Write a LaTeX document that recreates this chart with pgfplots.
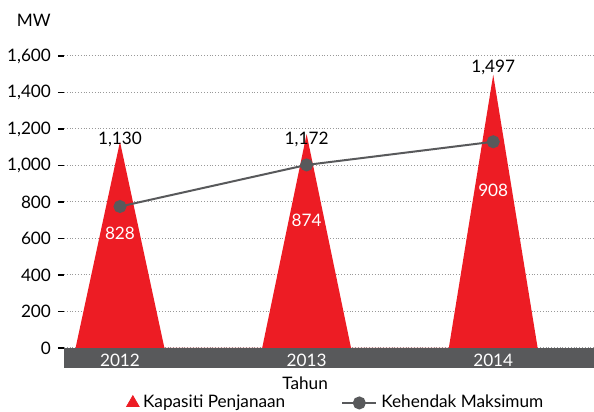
\documentclass[border=0pt]{standalone}
\usepackage{pgfplots}
\pgfplotsset{compat=1.18}
\usepackage{fontspec}
\setmainfont{Lato}
\definecolor{tred}{HTML}{ED1C24}
\definecolor{lgray}{HTML}{58595B}
\begin{document}
\begin{tikzpicture}[x=1pt,y=1pt,font=\fontsize{8.6}{10}\selectfont]
\path[use as bounding box] (-32,-22) rectangle (265,184);
\fill[lgray] (0,0) rectangle (265,10.03);
\begin{axis}[
 at={(0,0)}, anchor=south west,
 width=265pt, height=156pt, scale only axis,
 xmin=-0.3, xmax=2.54, ymin=-110, ymax=1600,
 ytick={0,200,...,1600},
 /pgf/number format/assume math mode=true,
 yticklabel style={/pgf/number format/.cd, fixed, 1000 sep={,}},
 xtick={0,1,2}, xticklabels={2012,2013,2014},
 xticklabel style={text=white, anchor=center, yshift=7pt},
 x tick style={draw=none},
 y tick style={draw=black, line width=0.6pt},
 tick align=outside, major tick length=3pt,
 ymajorgrids, major grid style={densely dotted, gray!80, line width=0.5pt},
 axis line style={draw=none},
 clip=false,
 xlabel={Tahun}, xlabel style={at={(axis description cs:0.455,-0.048)}, anchor=center},
 ylabel={MW}, ylabel style={rotate=-90, at={(axis description cs:-0.057,1.115)}, anchor=center},
 legend style={at={(axis description cs:0.515,-0.112)}, anchor=center, draw=none, fill=none,
   legend columns=2, /tikz/every even column/.append style={column sep=26pt}},
]
\addplot[fill=tred, draw=none, forget plot] coordinates {(-0.238,0) (0,1130) (0.238,0) (0.762,0) (1,1172) (1.238,0) (1.762,0) (2,1497) (2.238,0)} \closedcycle;
\addlegendimage{only marks, mark=triangle*, mark size=3.6pt, color=tred}
\addlegendentry{Kapasiti Penjanaan}
\addplot[lgray, line width=1pt, mark=*, mark size=2.75pt, mark options={fill=lgray, draw=lgray}] coordinates {(0,775) (1,1003) (2,1130)};
\addlegendentry{Kehendak Maksimum}
\node at (axis cs:0,1140) {1,130};
\node at (axis cs:1,1145) {1,172};
\node at (axis cs:2,1540) {1,497};
\node[text=white] at (axis cs:0,630) {828};
\node[text=white] at (axis cs:1,701) {874};
\node[text=white] at (axis cs:2,866) {908};
\end{axis}
\end{tikzpicture}
\end{document}
